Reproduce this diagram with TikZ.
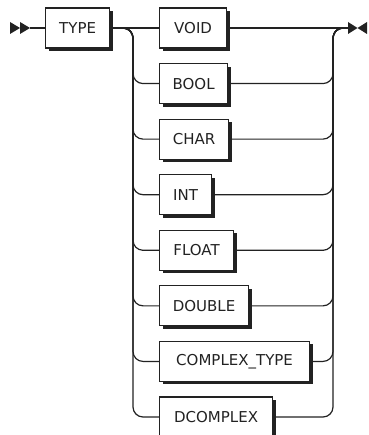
\documentclass[tikz,border=0pt]{standalone}
\usepackage{fontspec}
\setmainfont{DejaVu Sans}
\usetikzlibrary{shadows}
\definecolor{ink}{HTML}{222222}
\tikzset{
  kw/.style={draw=ink, line width=1.2pt, fill=white, text=ink, anchor=west,
    minimum height=40pt, inner sep=0pt,
    font=\fontsize{15}{18}\selectfont,
    drop shadow={shadow xshift=3pt, shadow yshift=-3pt, fill=ink, opacity=1}},
  rail/.style={draw=ink, line width=1.2pt, rounded corners=10pt},
  tip/.style={fill=ink, draw=none}
}
\begin{document}
\begin{tikzpicture}[x=1pt, y=-1pt]
  \path[use as bounding box] (0,0) rectangle (368,435);
  \clip (0,0) rectangle (368,435);

  % terminals
  \coordinate (start) at (30,28);
  \coordinate (endp) at (348,28);
  \coordinate (L) at (133,28);
  \coordinate (R) at (333,28);
  \fill[tip] (10,22) -- (20,28) -- (10,34) -- cycle;
  \fill[tip] (20,22) -- (30,28) -- (20,34) -- cycle;
  \fill[tip] (348,22) -- (357.5,28) -- (348,34) -- cycle;
  \fill[tip] (367,22) -- (357.5,28) -- (367,34) -- cycle;

  % keyword
  \node[kw, minimum width=64pt] (type) at (45,28) {TYPE};

  % alternatives
  \node[kw, minimum width=67pt]  (b0) at (159,28)     {VOID};
  \node[kw, minimum width=68pt]  (b1) at (159,83.57)  {BOOL};
  \node[kw, minimum width=69pt]  (b2) at (159,139.14) {CHAR};
  \node[kw, minimum width=52pt]  (b3) at (159,194.71) {INT};
  \node[kw, minimum width=74pt]  (b4) at (159,250.29) {FLOAT};
  \node[kw, minimum width=89pt]  (b5) at (159,305.86) {DOUBLE};
  \node[kw, minimum width=150pt] (b6) at (159,361.43) {COMPLEX\_TYPE};
  \node[kw, minimum width=113pt] (b7) at (159,417)    {DCOMPLEX};

  % main line
  \draw[rail] (start) -- (type.west);
  \draw[rail] (type.east) -- (b0.west);
  \draw[rail] (b0.east) -- (endp);

  % branches
  \foreach \b in {b1,b2,b3,b4,b5,b6,b7}{
    \draw[rail] (type.east) -| (L |- \b.west) -- (\b.west);
    \draw[rail] (\b.east) -| (R) -- (endp);
  }
\end{tikzpicture}
\end{document}
